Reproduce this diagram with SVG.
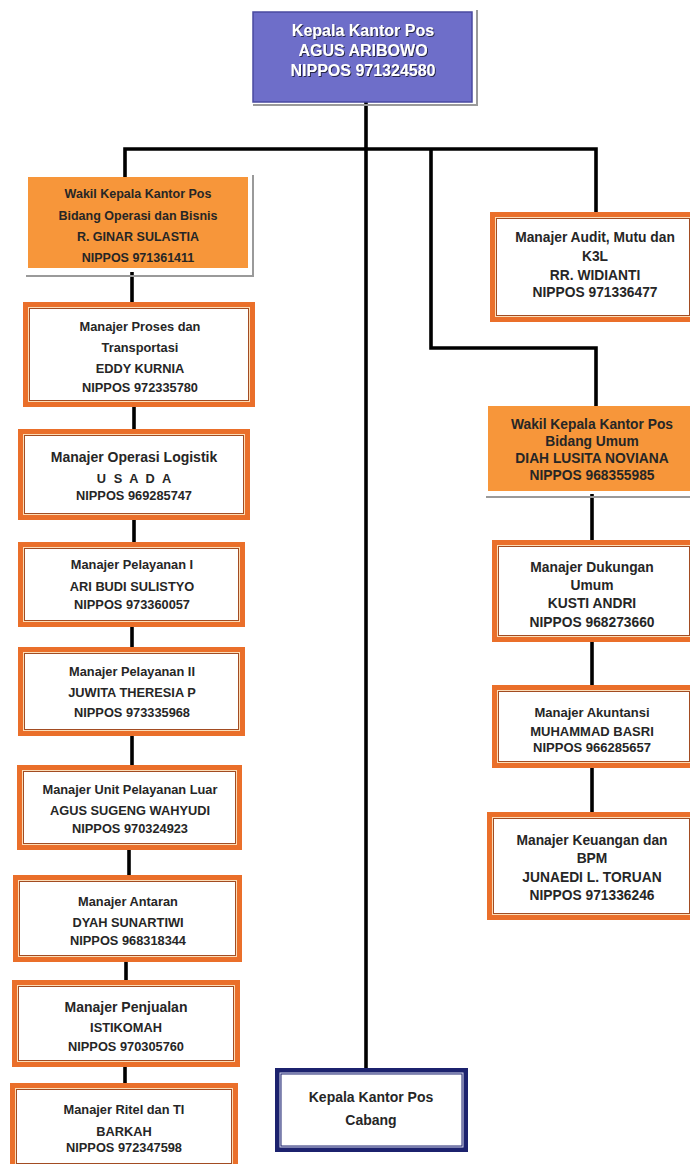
<svg xmlns="http://www.w3.org/2000/svg" width="690" height="1164" viewBox="0 0 690 1164">
<defs>
<filter id="ts" x="-10%" y="-10%" width="130%" height="140%">
<feDropShadow dx="1" dy="1" stdDeviation="0.6" flood-color="#1a1a3a" flood-opacity="0.9"/>
</filter>
</defs>
<style>
text{font-family:"Liberation Sans",Arial,sans-serif;font-weight:bold;text-anchor:middle;fill:#262626}
.t{font-size:12.8px}
.tw{font-size:12.5px}
.tr{font-size:13.8px}
.ta{font-size:13px}
.tl{font-size:14px}
.w{fill:#ffffff;font-size:16px}
.conn{stroke:#000;stroke-width:3.6;fill:none;stroke-linejoin:miter}
.sh{stroke:#9a9a9a;stroke-width:2;fill:none}
.ob{fill:#EA6F2A}
.oc{fill:#FBDDB8}
.oi{fill:#fff;stroke:#A24C22;stroke-width:1}
.nb{fill:#1C226E}
.nc{fill:#D9DBEF}
.ni{fill:#fff;stroke:#1C226E;stroke-width:1}
.wk{fill:#F7963A}
</style>
<rect width="690" height="1164" fill="#fff"/>
<g id="connectors">
<path class="conn" d="M366 102 V1068"/>
<path class="conn" d="M125 177 V149 H596 V212"/>
<path class="conn" d="M431 149 V348 H596 V406"/>
<path class="conn" d="M132 272 V302"/>
<path class="conn" d="M134 407 V429"/>
<path class="conn" d="M134 520 V542"/>
<path class="conn" d="M132 627 V647"/>
<path class="conn" d="M132 736 V765"/>
<path class="conn" d="M129 850 V875"/>
<path class="conn" d="M126 962 V980"/>
<path class="conn" d="M125 1067 V1083"/>
<path class="conn" d="M592 494 V540"/>
<path class="conn" d="M592 642 V685"/>
<path class="conn" d="M592 768 V812"/>
</g>
<g id="kepala">
<polyline class="sh" points="477,10 477,105 253,105"/>
<rect x="253" y="12" width="219" height="90" fill="#6E6EC9" stroke="#4a4aa0" stroke-width="1.5"/>
<g filter="url(#ts)">
<text class="w" x="363" y="36">Kepala Kantor Pos</text>
<text class="w" x="363" y="56">AGUS ARIBOWO</text>
<text class="w" x="363" y="76">NIPPOS 971324580</text>
</g>
</g>
<g id="wakil-operasi">
<polyline class="sh" points="253,175 253,276 26,276"/>
<rect class="wk" x="28" y="177" width="220" height="91"/>
<text class="tw" x="138" y="198">Wakil Kepala Kantor Pos</text>
<text class="tw" x="138" y="220">Bidang Operasi dan Bisnis</text>
<text class="tw" x="138" y="241">R. GINAR SULASTIA</text>
<text class="tw" x="138" y="262">NIPPOS 971361411</text>
</g>
<g id="proses">
<rect class="ob" x="23" y="302" width="232" height="105"/>
<rect class="oc" x="28" y="307" width="222" height="95"/>
<rect class="oi" x="29.5" y="308.5" width="219" height="92"/>
<text class="t" x="140" y="331">Manajer Proses  dan</text>
<text class="t" x="140" y="352">Transportasi</text>
<text class="t" x="140" y="373">EDDY KURNIA</text>
<text class="t" x="140" y="392">NIPPOS 972335780</text>
</g>
<g id="operasi-logistik">
<rect class="ob" x="18" y="429" width="232" height="91"/>
<rect class="oc" x="23" y="434" width="222" height="81"/>
<rect class="oi" x="24.5" y="435.5" width="219" height="78"/>
<text class="tl" x="134" y="462">Manajer Operasi Logistik</text>
<text class="t" x="135" y="483" letter-spacing="2">U S A D A</text>
<text class="t" x="134" y="500">NIPPOS 969285747</text>
</g>
<g id="pelayanan-1">
<rect class="ob" x="18" y="542" width="227" height="85"/>
<rect class="oc" x="23" y="547" width="217" height="75"/>
<rect class="oi" x="24.5" y="548.5" width="214" height="72"/>
<text class="t" x="132" y="569">Manajer  Pelayanan I</text>
<text class="t" x="132" y="591">ARI BUDI SULISTYO</text>
<text class="t" x="132" y="609">NIPPOS 973360057</text>
</g>
<g id="pelayanan-2">
<rect class="ob" x="18" y="647" width="227" height="89"/>
<rect class="oc" x="23" y="652" width="217" height="79"/>
<rect class="oi" x="24.5" y="653.5" width="214" height="76"/>
<text class="t" x="132" y="676">Manajer Pelayanan II</text>
<text class="t" x="132" y="697">JUWITA THERESIA P</text>
<text class="t" x="132" y="717">NIPPOS 973335968</text>
</g>
<g id="unit-pelayanan-luar">
<rect class="ob" x="17" y="765" width="225" height="85"/>
<rect class="oc" x="22" y="770" width="215" height="75"/>
<rect class="oi" x="23.5" y="771.5" width="212" height="72"/>
<text class="t" x="130" y="794">Manajer Unit Pelayanan Luar</text>
<text class="t" x="130" y="815">AGUS SUGENG WAHYUDI</text>
<text class="t" x="130" y="833">NIPPOS 970324923</text>
</g>
<g id="antaran">
<rect class="ob" x="13" y="875" width="229" height="87"/>
<rect class="oc" x="18" y="880" width="219" height="77"/>
<rect class="oi" x="19.5" y="881.5" width="216" height="74"/>
<text class="t" x="128" y="906">Manajer Antaran</text>
<text class="t" x="128" y="927">DYAH SUNARTIWI</text>
<text class="t" x="128" y="945">NIPPOS 968318344</text>
</g>
<g id="penjualan">
<rect class="ob" x="12" y="980" width="228" height="87"/>
<rect class="oc" x="17" y="985" width="218" height="77"/>
<rect class="oi" x="18.5" y="986.5" width="215" height="74"/>
<text class="tl" x="126" y="1012">Manajer Penjualan</text>
<text class="t" x="126" y="1032">ISTIKOMAH</text>
<text class="t" x="126" y="1051">NIPPOS 970305760</text>
</g>
<g id="ritel">
<rect class="ob" x="10" y="1083" width="228" height="81"/>
<rect class="oc" x="15" y="1088" width="218" height="76"/>
<rect class="oi" x="16.5" y="1089.5" width="215" height="74"/>
<text class="t" x="124" y="1114">Manajer Ritel dan TI</text>
<text class="t" x="124" y="1136">BARKAH</text>
<text class="t" x="124" y="1152">NIPPOS 972347598</text>
</g>
<g id="audit">
<rect class="ob" x="490" y="212" width="206" height="110"/>
<rect class="oc" x="495" y="217" width="196" height="100"/>
<rect class="oi" x="496.5" y="218.5" width="193" height="97"/>
<text class="tr" x="595" y="242">Manajer Audit, Mutu dan</text>
<text class="tr" x="595" y="261">K3L</text>
<text class="tr" x="595" y="280">RR. WIDIANTI</text>
<text class="tr" x="595" y="297">NIPPOS 971336477</text>
</g>
<g id="wakil-umum">
<polyline class="sh" points="486,497 690,497"/>
<rect class="wk" x="488" y="406" width="206" height="85"/>
<text class="tr" x="592" y="429">Wakil Kepala Kantor Pos</text>
<text class="tr" x="592" y="446">Bidang Umum</text>
<text class="tr" x="592" y="463">DIAH LUSITA NOVIANA</text>
<text class="tr" x="592" y="480">NIPPOS 968355985</text>
</g>
<g id="dukungan">
<rect class="ob" x="492" y="540" width="204" height="102"/>
<rect class="oc" x="497" y="545" width="194" height="92"/>
<rect class="oi" x="498.5" y="546.5" width="191" height="89"/>
<text class="tr" x="592" y="572">Manajer Dukungan</text>
<text class="tr" x="592" y="590">Umum</text>
<text class="tr" x="592" y="608">KUSTI ANDRI</text>
<text class="tr" x="592" y="627">NIPPOS 968273660</text>
</g>
<g id="akuntansi">
<rect class="ob" x="492" y="685" width="204" height="83"/>
<rect class="oc" x="497" y="690" width="194" height="73"/>
<rect class="oi" x="498.5" y="691.5" width="191" height="70"/>
<text class="ta" x="592" y="717">Manajer Akuntansi</text>
<text class="ta" x="592" y="736">MUHAMMAD BASRI</text>
<text class="ta" x="592" y="752">NIPPOS 966285657</text>
</g>
<g id="keuangan">
<rect class="ob" x="487" y="812" width="209" height="108"/>
<rect class="oc" x="492" y="817" width="199" height="98"/>
<rect class="oi" x="493.5" y="818.5" width="196" height="95"/>
<text class="tr" x="592" y="845">Manajer Keuangan  dan</text>
<text class="tr" x="592" y="863">BPM</text>
<text class="tr" x="592" y="882">JUNAEDI L. TORUAN</text>
<text class="tr" x="592" y="900">NIPPOS 971336246</text>
</g>
<g id="cabang">
<rect class="nb" x="275" y="1068" width="193" height="84"/>
<rect class="nc" x="279.5" y="1072.5" width="184" height="75"/>
<rect class="ni" x="281" y="1074" width="181" height="72"/>
<text class="tl" x="371" y="1102">Kepala Kantor Pos</text>
<text class="tl" x="371" y="1125">Cabang</text>
</g>
</svg>
